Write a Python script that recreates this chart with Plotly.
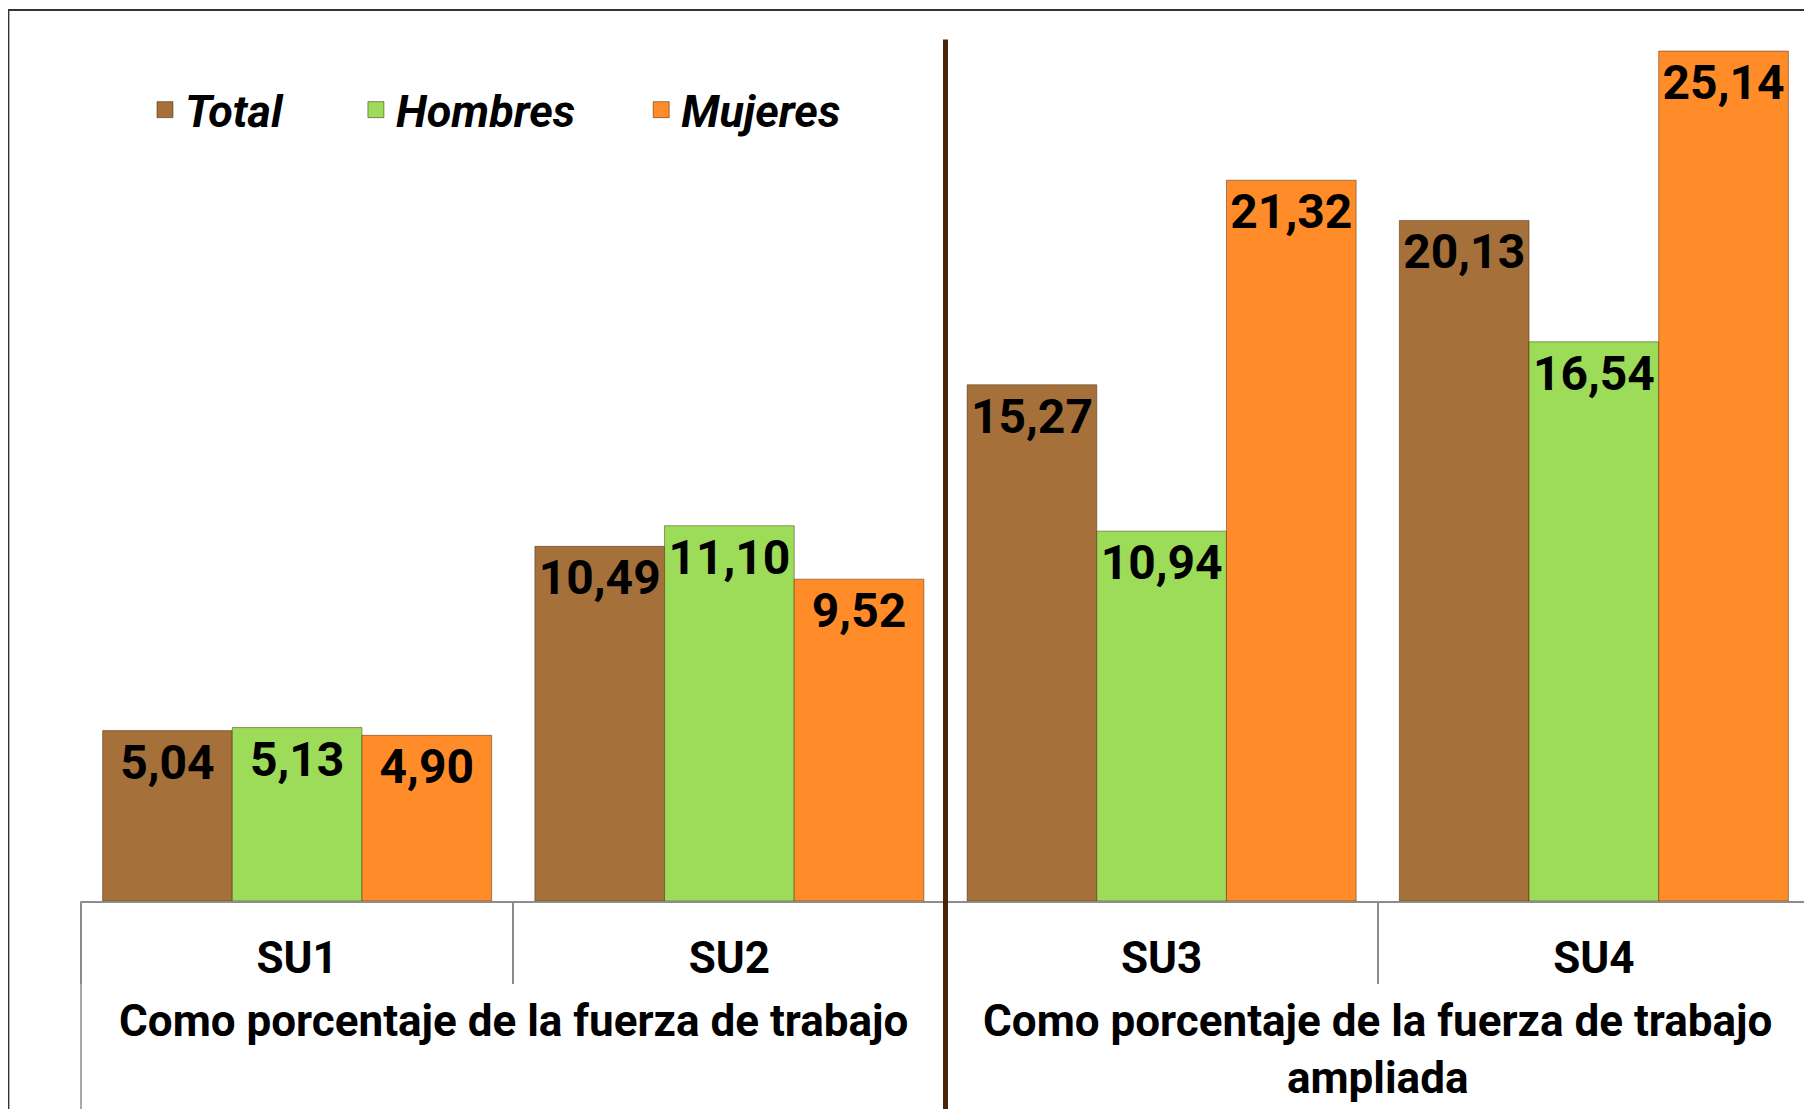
import plotly.graph_objects as go

# Data
categorias = ["SU1", "SU2", "SU3", "SU4"]
grupos = [
    "Como porcentaje de la fuerza de trabajo",
    "Como porcentaje de la fuerza de trabajo",
    "Como porcentaje de la fuerza de trabajo<br>ampliada",
    "Como porcentaje de la fuerza de trabajo<br>ampliada",
]
total = [5.04, 10.49, 15.27, 20.13]
hombres = [5.13, 11.10, 10.94, 16.54]
mujeres = [4.90, 9.52, 21.32, 25.14]

series = [
    ("Total", total, "#A6703A", "legend"),
    ("Hombres", hombres, "#9DDC58", "legend2"),
    ("Mujeres", mujeres, "#FF8C28", "legend3"),
]

FONT = "Roboto, Arial, sans-serif"
GRID = "#8C8C8C"

fig = go.Figure()

for name, values, color, legend in series:
    fig.add_trace(go.Bar(
        x=categorias,
        y=values,
        name=name,
        showlegend=False,
        marker=dict(color=color, line=dict(color="rgba(60,30,0,0.45)", width=1)),
        texttemplate="%{y:.2f}",
        textposition="inside",
        insidetextanchor="end",
        constraintext="none",
        textfont=dict(family=FONT, size=48, color="black", weight="bold"),
    ))
    # legend-only entry with a bigger square symbol
    fig.add_trace(go.Scatter(
        x=[None], y=[None],
        mode="markers",
        name=name,
        legend=legend,
        marker=dict(symbol="square", size=22, color=color,
                    line=dict(color="rgba(60,30,0,0.5)", width=1)),
    ))

legend_style = dict(
    orientation="h",
    yanchor="middle",
    y=0.90,
    xanchor="left",
    bgcolor="rgba(0,0,0,0)",
    font=dict(family=FONT, size=45, color="black", weight="bold", style="italic"),
)

# page has an 8px body margin, so margins are shifted by that amount
fig.update_layout(
    width=1812,
    height=1109,
    margin=dict(l=73, r=10, t=14, b=216),
    paper_bgcolor="white",
    plot_bgcolor="white",
    barmode="group",
    bargap=0.1,
    bargroupgap=0,
    separators=",.",
    uniformtext=dict(minsize=48, mode="show"),
    legend=dict(legend_style, x=0.037),
    legend2=dict(legend_style, x=0.159),
    legend3=dict(legend_style, x=0.324),
    showlegend=True,
)

fig.update_xaxes(
    type="category",
    range=[-0.5, len(categorias) - 0.5],
    showline=True,
    linecolor=GRID,
    linewidth=2,
    ticks="outside",
    tickson="boundaries",
    ticklen=81,
    tickcolor=GRID,
    tickwidth=1.5,
    ticklabelstandoff=17,
    tickfont=dict(family=FONT, size=44, color="black", weight="bold"),
    showgrid=False,
)

fig.update_yaxes(
    range=[0, 26],
    showgrid=False,
    zeroline=False,
    showticklabels=False,
    showline=False,
)

# group labels, centred under their categories
for g in dict.fromkeys(grupos):
    idx = [i for i, v in enumerate(grupos) if v == g]
    fig.add_annotation(
        x=sum(idx) / len(idx), xref="x",
        y=-0.105, yref="paper", yanchor="top",
        text=g, showarrow=False,
        font=dict(family=FONT, size=44, color="black", weight="bold"),
    )

# long frame lines of the category table
for xp in (0, 1):
    fig.add_shape(type="line", xref="paper", yref="paper",
                  x0=xp, x1=xp, y0=-0.3, y1=0,
                  line=dict(color=GRID, width=1.5))

# separator between the two groups
fig.add_shape(type="line", xref="paper", yref="paper",
              x0=0.5, x1=0.5, y0=-0.3, y1=0.98,
              line=dict(color="#4B2508", width=5))

# slide frame
fig.add_shape(type="rect", xref="paper", yref="paper",
              x0=-0.042, x1=1.2, y0=-0.4, y1=1.0137,
              line=dict(color="#333333", width=2))

fig.write_html("out.html")
